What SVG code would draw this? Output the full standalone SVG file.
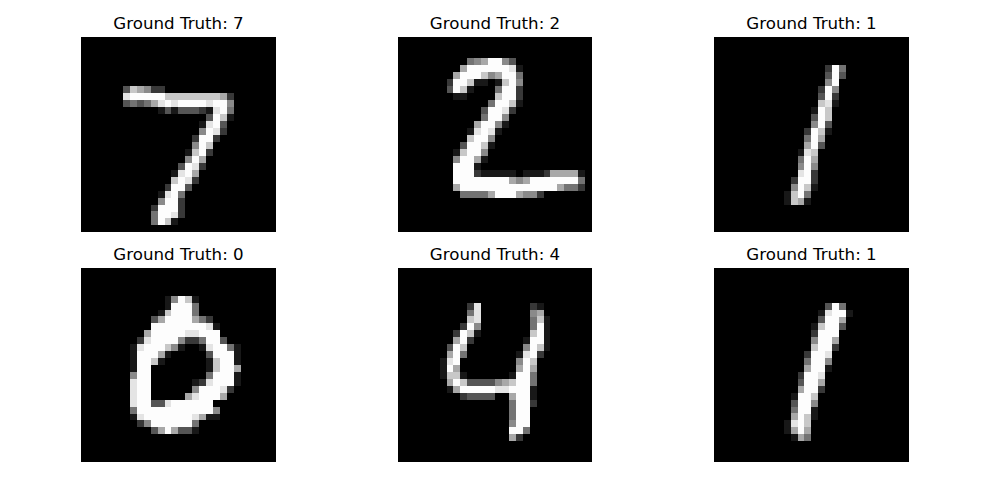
<svg xmlns="http://www.w3.org/2000/svg" width="1000" height="500" viewBox="0 0 1000 500">
<style>
text{font-family:"DejaVu Sans",sans-serif;font-size:16.67px;text-anchor:middle;fill:#000}
.bg{fill:#000}
path{fill:none;stroke-width:1.01;shape-rendering:crispEdges}
.k{stroke:#181818}.l{stroke:#383838}.m{stroke:#555}.n{stroke:#737373}.o{stroke:#8a8a8a}.p{stroke:#a8a8a8}.q{stroke:#c8c8c8}.r{stroke:#e4e4e4}.s{stroke:#fdfdfd}
</style>
<rect width="1000" height="500" fill="#fff"/>
<g id="panel-1">
<text x="178.5" y="29">Ground Truth: 7</text>
<rect class="bg" x="81" y="37" width="195" height="195"/>
<g transform="translate(81 37.5) scale(6.96)"><g transform="translate(0 .5)">
<path class="k" d="M11 10h1M13 10h1M18 10h1M21 11h1M17 12h1M15 16h1M13 19h1M11 22h1M13 26h1"/>
<path class="l" d="M10 7h2M21 8h1M17 10h1M20 13h1M16 14h1M19 14h1M18 16h1M17 18h1M16 20h1M12 21h1M14 23h1M10 24h1M14 24h1M14 25h1"/>
<path class="m" d="M6 7h1M6 9h1M8 9h1M12 10h1M14 10h3M18 11h1M20 12h1M14 18h1M15 21h1"/>
<path class="n" d="M7 9h1M9 9h1M21 10h1M14 22h1M10 25h1M10 26h1"/>
<path class="o" d="M9 7h1M21 9h1M17 13h1M16 15h1M15 17h1M11 23h1"/>
<path class="p" d="M8 7h1M20 8h1M10 9h1M17 17h1M16 19h1"/>
<path class="q" d="M7 7h1M12 8h8M20 11h1M18 15h1M16 16h1M13 20h1M12 26h1"/>
<path class="r" d="M6 8h1M11 9h1M13 9h1M18 9h1M19 10h1M18 12h1M19 13h1M16 18h1M14 19h1M15 20h1M12 22h1M13 25h1"/>
<path class="s" d="M7 8h5M12 9h1M14 9h4M19 9h2M20 10h1M19 11h1M19 12h1M18 13h1M17 14h2M17 15h1M17 16h1M16 17h1M15 18h1M15 19h1M14 20h1M13 21h2M13 22h1M12 23h2M11 24h3M11 25h2M11 26h1"/>
</g></g>
</g>
<g id="panel-2">
<text x="495" y="29">Ground Truth: 2</text>
<rect class="bg" x="398" y="37" width="194" height="195"/>
<g transform="translate(398 37.5) scale(6.93 6.96)"><g transform="translate(0 .5)">
<path class="k" d="M17 4h1M11 6h2M14 6h1M10 7h1M8 8h2M17 9h1M15 12h1M10 13h1M14 13h1M13 15h1M8 16h1M12 17h1M11 18h1M12 19h5M18 19h3M26 19h1"/>
<path class="l" d="M7 6h1M17 7h1M17 8h1M16 10h1M11 19h1M21 19h1M26 21h1M20 22h1"/>
<path class="m" d="M16 3h1M7 7h1M12 10h1M9 15h1"/>
<path class="n" d="M10 3h1M17 5h1M14 7h1M13 9h1M12 11h1M26 20h1M24 21h2M9 22h4"/>
<path class="o" d="M11 3h1M15 3h1M13 5h1M17 6h1M15 11h1M14 12h1M13 14h1M12 16h1M8 17h1M17 20h1M18 22h2"/>
<path class="p" d="M12 3h1M9 4h1M8 5h1M14 5h1M11 12h1M11 17h1M22 19h4M16 20h1M18 20h1M8 21h1M23 21h1M13 22h1M17 22h1"/>
<path class="q" d="M12 5h1M10 6h1M15 6h1M9 7h1M14 8h1M16 9h1M10 14h1M12 15h1M9 16h1"/>
<path class="r" d="M16 4h1M15 10h1M11 13h1M13 13h1"/>
<path class="s" d="M13 3h2M10 4h6M9 5h3M15 5h2M8 6h2M16 6h1M8 7h1M15 7h2M15 8h2M14 9h2M13 10h2M13 11h2M12 12h2M12 13h1M11 14h2M10 15h2M10 16h2M9 17h2M8 18h3M8 19h3M8 20h8M19 20h7M9 21h14M14 22h3"/>
</g></g>
</g>
<g id="panel-3">
<text x="811.5" y="29">Ground Truth: 1</text>
<rect class="bg" x="714" y="37" width="195" height="195"/>
<g transform="translate(714 37.5) scale(6.96)"><g transform="translate(0 .5)">
<path class="k" d="M17 9h1M14 10h1M16 13h1M12 16h1M14 21h1M10 22h1M10 23h1M13 23h1"/>
<path class="l" d="M16 4h1M15 7h1M17 8h1M13 13h1M14 19h1M11 20h1M14 20h1"/>
<path class="m" d="M16 5h1M18 5h1M15 8h1M14 11h1M16 12h1M15 15h1"/>
<path class="n" d="M18 4h1M13 14h1M12 17h1M13 22h1"/>
<path class="o" d="M16 6h1M17 7h1M14 12h1M12 18h1M14 18h1M11 21h1"/>
<path class="p" d="M15 14h1M13 15h1M14 17h1M12 23h1"/>
<path class="q" d="M15 9h1M16 10h1M16 11h1M15 13h1M14 16h1M13 21h1M11 22h1M11 23h1"/>
<path class="r" d="M16 9h1M13 16h1M12 19h1"/>
<path class="s" d="M17 4h1M17 5h1M17 6h1M16 7h1M16 8h1M15 10h1M15 11h1M15 12h1M14 13h1M14 14h1M14 15h1M13 17h1M13 18h1M13 19h1M12 20h2M12 21h1M12 22h1"/>
</g></g>
</g>
<g id="panel-4">
<text x="178.5" y="260">Ground Truth: 0</text>
<rect class="bg" x="81" y="268" width="195" height="194"/>
<g transform="translate(81 268) scale(6.96 6.93)"><g transform="translate(0 .5)">
<path class="k" d="M12 4h1M16 4h1M12 5h1M11 6h1M19 8h1M7 11h1M14 11h1M17 11h1M22 11h1M7 12h1M12 12h1M22 12h1M7 13h1M11 13h1M18 13h1M22 13h1M7 14h1M18 14h1M22 15h1M16 16h1M22 16h1M7 21h1M18 21h2M16 23h1"/>
<path class="l" d="M18 7h1M8 10h1M15 10h2M17 16h1M21 17h1M8 22h1"/>
<path class="m" d="M10 7h1M20 10h1M18 12h1M10 19h2M10 23h1M14 23h2"/>
<path class="n" d="M16 5h1M16 6h1M17 7h1M17 10h1M21 11h1M18 15h1M7 20h1M16 22h1"/>
<path class="o" d="M13 4h1M14 10h1M13 11h1M7 15h1M16 17h1M19 20h1M9 22h1"/>
<path class="p" d="M11 7h1M16 7h1M9 9h1M11 12h1M22 14h1M15 18h1M20 18h1M17 21h1M11 23h1M13 23h1"/>
<path class="q" d="M15 4h1M12 6h1M12 11h1M10 13h1M19 13h1M19 14h1"/>
<path class="r" d="M18 8h1M15 9h2M9 10h1M8 11h1M18 11h1M7 16h1M18 16h1M7 17h1M20 17h1M7 18h1M16 18h1M7 19h1M12 19h1M8 21h1M16 21h1"/>
<path class="s" d="M14 4h1M13 5h3M13 6h3M12 7h4M10 8h8M10 9h5M17 9h3M10 10h4M18 10h2M9 11h3M19 11h2M8 12h3M19 12h3M8 13h2M20 13h2M8 14h2M20 14h2M8 15h2M19 15h3M8 16h2M19 16h3M8 17h2M17 17h3M8 18h2M17 18h3M8 19h2M13 19h6M8 20h11M9 21h7M10 22h6M12 23h1"/>
</g></g>
</g>
<g id="panel-5">
<text x="495" y="260">Ground Truth: 4</text>
<rect class="bg" x="398" y="268" width="194" height="194"/>
<g transform="translate(398 268) scale(6.93)"><g transform="translate(0 .5)">
<path class="k" d="M20 5h1M21 7h1M21 8h1M11 9h1M21 9h1M18 10h1M21 10h1M21 11h1M17 12h1M6 13h1M6 14h1M6 15h1M9 15h1M16 15h1M7 17h1M19 17h1M19 18h1"/>
<path class="l" d="M10 5h1M19 5h1M9 8h1M8 9h1M10 10h1M20 12h1M9 18h1M19 19h1M17 24h1"/>
<path class="m" d="M7 11h1M10 16h4M10 18h4"/>
<path class="n" d="M10 6h1M19 7h1M19 8h1M9 12h1M19 15h1M19 16h1M16 19h1M16 20h1M16 21h1M18 23h1"/>
<path class="o" d="M19 6h1M11 8h1M18 11h1M17 13h1M14 16h1M16 22h1"/>
<path class="p" d="M20 6h1M8 10h1M7 12h1M8 14h1M17 14h1M19 14h1M7 16h1M15 16h1M8 17h1M16 18h1M16 24h1"/>
<path class="q" d="M10 7h1M20 7h1M10 9h1M19 9h1M9 11h1M20 11h1M19 13h1M7 15h2M9 16h1M16 16h1"/>
<path class="r" d="M11 5h1M11 6h1M11 7h1M18 12h1M7 13h1M14 17h2"/>
<path class="s" d="M10 8h1M20 8h1M9 9h1M20 9h1M9 10h1M19 10h2M8 11h1M19 11h1M8 12h1M19 12h1M8 13h1M18 13h1M7 14h1M18 14h1M17 15h2M8 16h1M17 16h2M9 17h5M16 17h3M17 18h2M17 19h2M17 20h2M17 21h2M17 22h2M16 23h2"/>
</g></g>
</g>
<g id="panel-6">
<text x="811.5" y="260">Ground Truth: 1</text>
<rect class="bg" x="714" y="268" width="195" height="194"/>
<g transform="translate(714 268) scale(6.96 6.93)"><g transform="translate(0 .5)">
<path class="k" d="M15 6h1M19 6h1M14 8h1M16 14h1M11 18h1M14 20h1M14 21h1M10 22h1M10 23h1M11 24h1"/>
<path class="l" d="M14 9h1M17 11h1M13 12h1M12 15h1M15 17h1"/>
<path class="m" d="M16 5h1M15 7h1M18 8h1M12 16h1M11 19h1"/>
<path class="n" d="M18 5h1M13 13h1M11 20h1M13 24h1"/>
<path class="o" d="M14 10h1M16 13h1M14 19h1"/>
<path class="p" d="M18 7h1M17 10h1M13 14h1M15 16h1M12 17h1M11 21h1M11 23h1M13 23h1M12 24h1"/>
<path class="q" d="M15 8h1M14 11h1M14 18h1M13 21h1M13 22h1"/>
<path class="r" d="M16 6h1M16 12h1M15 15h1M11 22h1"/>
<path class="s" d="M17 5h1M17 6h2M16 7h2M16 8h2M15 9h3M15 10h2M15 11h2M14 12h2M14 13h2M14 14h2M13 15h2M13 16h2M13 17h2M12 18h2M12 19h2M12 20h2M12 21h1M12 22h1M12 23h1"/>
</g></g>
</g>
</svg>
